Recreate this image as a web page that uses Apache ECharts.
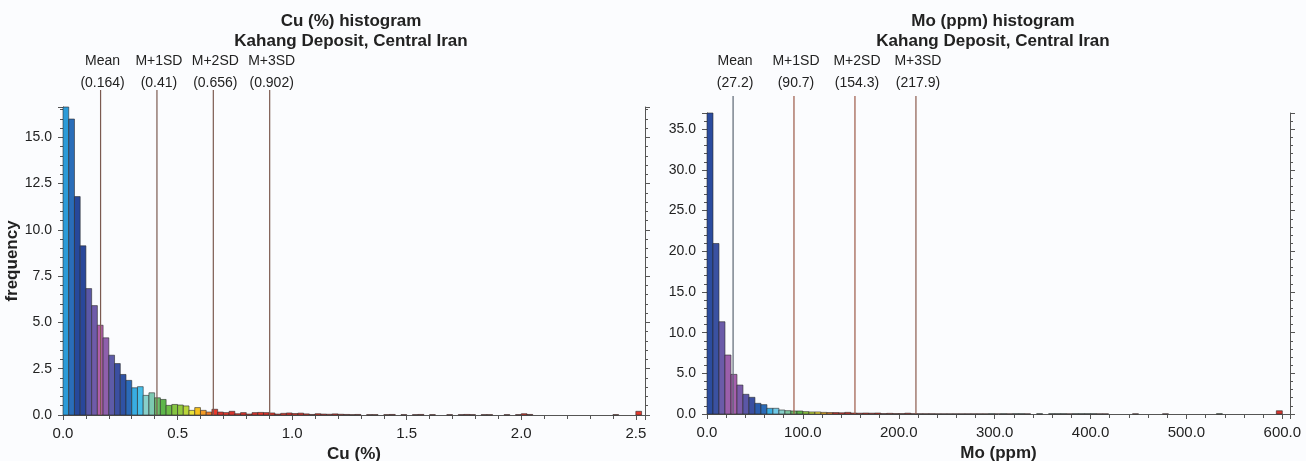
<!DOCTYPE html>
<html lang="en">
<head>
  <meta charset="UTF-8">
  <title>Cu / Mo histograms - Kahang</title>
  <style>
    html, body { margin: 0; padding: 0; background: #fbfcfe; }
    #chart { width: 1306px; height: 461px; }
  </style>
</head>
<body>
  <div id="chart"></div>

  <script src="https://cdn.jsdelivr.net/npm/echarts/dist/echarts.min.js"></script>
  <script>
    // ---- data ----
    var statNames = ['Mean', 'M+1SD', 'M+2SD', 'M+3SD'];

    var cuBinWidth = 0.025;
    var cuFreq = [
      16.64, 15.99, 11.80, 9.14, 6.83, 5.91, 4.85, 4.17, 3.23, 2.78,
      2.19, 1.87, 1.47, 1.53, 1.06, 1.20, 0.93, 0.84, 0.52, 0.57,
      0.54, 0.49, 0.25, 0.40, 0.25, 0.16, 0.31, 0.16, 0.13, 0.20,
      0.07, 0.13, 0.05, 0.13, 0.14, 0.13, 0.11, 0.05, 0.09, 0.11,
      0.08, 0.10, 0.06, 0.03, 0.07, 0.05, 0.04, 0.06, 0.04, 0.03,
      0.02, 0.03, 0.00, 0.02, 0.02, 0.00, 0.02, 0.03, 0.00, 0.02,
      0.00, 0.02, 0.03, 0.00, 0.02, 0.00, 0.00, 0.02, 0.00, 0.02,
      0.03, 0.02, 0.00, 0.02, 0.02, 0.00, 0.00, 0.02, 0.00, 0.02,
      0.07, 0.03, 0.00, 0.00, 0.00, 0.00, 0.00, 0.00, 0.00, 0.00,
      0.00, 0.00, 0.00, 0.00, 0.00, 0.00, 0.02, 0.00, 0.00, 0.00,
      0.20
    ];
    var cuStats = [0.164, 0.41, 0.656, 0.902];

    var moBinWidth = 6.25;
    var moFreq = [
      37.0, 20.96, 11.34, 7.25, 4.87, 3.56, 2.42, 2.05, 1.31, 1.15,
      0.70, 0.70, 0.49, 0.41, 0.37, 0.37, 0.29, 0.25, 0.25, 0.20,
      0.18, 0.18, 0.15, 0.20, 0.12, 0.10, 0.12, 0.10, 0.12, 0.05,
      0.08, 0.05, 0.05, 0.10, 0.04, 0.03, 0.03, 0.03, 0.02, 0.02,
      0.02, 0.02, 0.02, 0.02, 0.02, 0.02, 0.02, 0.03, 0.02, 0.03,
      0.02, 0.03, 0.03, 0.02, 0.00, 0.03, 0.00, 0.03, 0.03, 0.03,
      0.02, 0.03, 0.03, 0.03, 0.03, 0.02, 0.02, 0.00, 0.00, 0.00,
      0.00, 0.02, 0.00, 0.00, 0.00, 0.00, 0.02, 0.00, 0.00, 0.00,
      0.00, 0.00, 0.00, 0.00, 0.00, 0.03, 0.00, 0.00, 0.00, 0.00,
      0.00, 0.00, 0.00, 0.00, 0.00, 0.40
    ];
    var moStats = [27.2, 90.7, 154.3, 217.9];

    // bar fill colours, in bin order (the rest are red)
    var cuColors = [
      '#2b9bd8', '#2a6db9', '#26489b', '#29479a', '#5b58a7', '#6f5ba9', '#b15fa9', '#8e5fac',
      '#5d5ba8', '#3b4fa1', '#2f52a4', '#2b6bb8', '#38ade2', '#45bee9', '#88d0ca', '#7dc9b2',
      '#6cbe6b', '#5db64b', '#6dbd46', '#85c442', '#93c93f', '#b9d53b', '#e9e33b', '#f6c21d',
      '#f39b26', '#f07b29'
    ];
    var moColors = [
      '#2b4c9f', '#3a51a1', '#6b5ba9', '#9b5fab', '#a55fac', '#7b5ba9', '#5b57a7', '#3b4fa1',
      '#2c5dae', '#2b6bb8', '#3aaee2', '#6fc8e6', '#87cfca', '#7dc7a1', '#6cbe6b', '#5db64b',
      '#8cc640', '#b9d53b', '#e9d73b', '#f3b121', '#ef7f27'
    ];
    var moTailColors = { 47: '#2f6a56', 49: '#2f6a56', 51: '#2f6a56', 52: '#2f6a56', 55: '#2f6a56',
      57: '#2f6a56', 58: '#2f6a56', 59: '#2f6a56', 61: '#2f6a56', 62: '#2f6a56', 63: '#2f6a56',
      64: '#2f6a56', 85: '#4a9a5a' };

    // ---- helpers ----
    var FONT = 'Liberation Sans, Arial, sans-serif';

    function binData(freq, width, colors, extra) {
      return freq.map(function (v, i) {
        var c = colors[i] || (extra && extra[i]) || (i % 2 ? '#d9342e' : '#e6392d');
        return { value: [i * width, v], itemStyle: { color: c } };
      });
    }

    function renderBars(width) {
      return function (params, api) {
        var x0 = api.value(0), v = api.value(1);
        if (!v) return null;
        var p0 = api.coord([x0, 0]);
        var p1 = api.coord([x0 + width, v]);
        return {
          type: 'rect',
          shape: { x: p0[0], y: p1[1], width: p1[0] - p0[0], height: p0[1] - p1[1] },
          style: { fill: api.visual('color'), stroke: '#2a2a2a', lineWidth: 0.6 }
        };
      };
    }

    // vertical mean / SD lines with their two-line captions
    function renderStats(values, colors) {
      return function (params, api) {
        var i = params.dataIndex;
        var base = api.coord([api.value(0), 0]);
        var top = params.coordSys.y - 17;
        return {
          type: 'group',
          children: [
            {
              type: 'line',
              shape: { x1: base[0], y1: base[1], x2: base[0], y2: top },
              style: { stroke: colors[i], lineWidth: 1.2 }
            },
            {
              type: 'text',
              style: {
                text: statNames[i] + '\n(' + values[i] + ')',
                x: base[0] + 2, y: 94,
                align: 'center', verticalAlign: 'bottom',
                fontSize: 14, fontFamily: FONT, lineHeight: 22, fill: '#222'
              }
            }
          ]
        };
      };
    }

    function xAxis(gridIndex, max, interval, name) {
      return {
        type: 'value', gridIndex: gridIndex, min: 0, max: max, interval: interval,
        name: name, nameLocation: 'middle', nameGap: 27,
        nameTextStyle: { fontFamily: FONT, fontWeight: 'bold', fontSize: 17, color: '#222' },
        axisLine: { show: true, onZero: false, lineStyle: { color: '#555' } },
        axisTick: { show: true, length: 5, lineStyle: { color: '#555' } },
        minorTick: { show: true, splitNumber: 5, length: 4, lineStyle: { color: '#555' } },
        splitLine: { show: false },
        axisLabel: {
          fontFamily: FONT, fontSize: 15, color: '#222', margin: 11, showMaxLabel: false,
          formatter: function (v) { return v.toFixed(1); }
        }
      };
    }

    function yAxis(gridIndex, max, interval, name, right) {
      return {
        type: 'value', gridIndex: gridIndex, min: 0, max: max, interval: interval,
        position: right ? 'right' : 'left',
        name: name, nameLocation: 'middle', nameGap: 41,
        nameTextStyle: { fontFamily: FONT, fontWeight: 'bold', fontSize: 17, color: '#222' },
        axisLine: { show: true, lineStyle: { color: '#555' } },
        axisTick: { show: true, length: 5, lineStyle: { color: '#555' } },
        minorTick: { show: true, splitNumber: 5, length: 3, lineStyle: { color: '#555' } },
        splitLine: { show: false },
        axisLabel: {
          show: !right, fontFamily: FONT, fontSize: 14, color: '#222', margin: 11, showMaxLabel: false,
          formatter: function (v) { return v.toFixed(1); }
        }
      };
    }

    var cuMax = Math.max.apply(null, cuFreq);
    var moMax = Math.max.apply(null, moFreq);

    var chart = echarts.init(document.getElementById('chart'));

    var titleStyle = { fontFamily: FONT, fontWeight: 'bold', fontSize: 17, lineHeight: 20, color: '#222' };

    chart.setOption({
      backgroundColor: '#fbfcfe',
      animation: false,
      title: [
        {
          text: 'Cu (%) histogram\nKahang Deposit, Central Iran',
          left: 346, top: 6, textAlign: 'center', textStyle: titleStyle
        },
        {
          text: 'Mo (ppm) histogram\nKahang Deposit, Central Iran',
          left: 988, top: 6, textAlign: 'center', textStyle: titleStyle
        }
      ],
      grid: [
        { left: 63, right: 661, top: 107, bottom: 46, containLabel: false, outerBoundsMode: 'none' },
        { left: 707, right: 16, top: 113, bottom: 47, containLabel: false, outerBoundsMode: 'none' }
      ],
      xAxis: [
        xAxis(0, 2.54, 0.5, 'Cu (%)'),
        xAxis(1, 608, 100, 'Mo (ppm)')
      ],
      yAxis: [
        yAxis(0, cuMax, 2.5, 'frequency', false),
        yAxis(0, cuMax, 2.5, '', true),
        yAxis(1, moMax, 5, '', false),
        yAxis(1, moMax, 5, '', true)
      ],
      series: [
        {
          type: 'custom', xAxisIndex: 0, yAxisIndex: 0,
          renderItem: renderBars(cuBinWidth),
          data: binData(cuFreq, cuBinWidth, cuColors)
        },
        {
          type: 'custom', xAxisIndex: 0, yAxisIndex: 0, clip: false,
          renderItem: renderStats(cuStats, ['#7b5a50', '#7b5a50', '#7b5a50', '#7b5a50']),
          data: cuStats.map(function (v) { return [v, 0]; })
        },
        {
          type: 'custom', xAxisIndex: 1, yAxisIndex: 2,
          renderItem: renderBars(moBinWidth),
          data: binData(moFreq, moBinWidth, moColors, moTailColors)
        },
        {
          type: 'custom', xAxisIndex: 1, yAxisIndex: 2, clip: false,
          renderItem: renderStats(moStats, ['#5b6672', '#9c5846', '#9c5846', '#8a5a4c']),
          data: moStats.map(function (v) { return [v, 0]; })
        }
      ]
    });
  </script>
</body>
</html>
